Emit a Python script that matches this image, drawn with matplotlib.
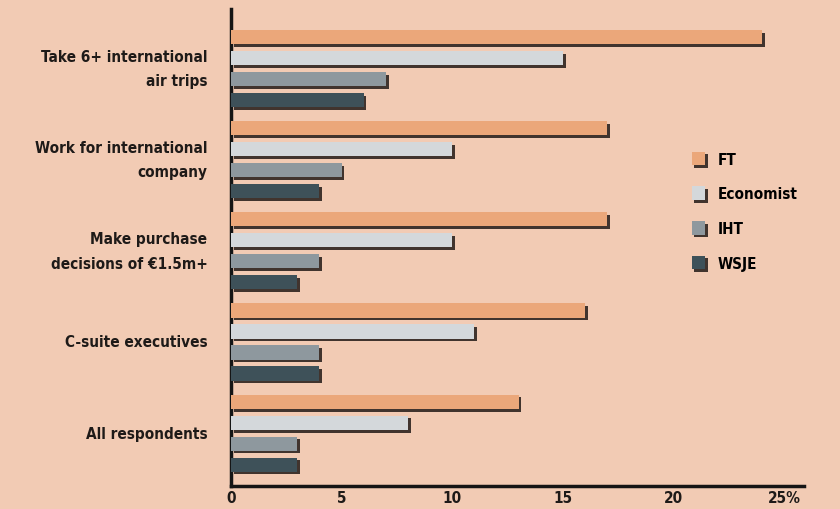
import numpy as np
import matplotlib.pyplot as plt
import matplotlib.patheffects as pe

categories = ['Take 6+ international\nair trips', 'Work for international\ncompany',
              'Make purchase\ndecisions of €1.5m+', 'C-suite executives', 'All respondents']
series = ['FT', 'Economist', 'IHT', 'WSJE']
ft = [24, 17, 17, 16, 13]
economist = [15, 10, 10, 11, 8]
iht = [7, 5, 4, 4, 3]
wsje = [6, 4, 3, 4, 3]
xticks = [0, 5, 10, 15, 20, 25]
xticklabels = ['0', '5', '10', '15', '20', '25%']

colors = ['#eba77a', '#d4d8db', '#8e989e', '#3e5159']
bg = '#f2cbb4'

plt.rcParams['font.family'] = ['DejaVu Sans']
plt.rcParams['font.stretch'] = 'condensed'
plt.rcParams['font.weight'] = 'bold'

fig = plt.figure(figsize=(8.4, 5.1), dpi=100)
fig.patch.set_facecolor(bg)
ax = fig.add_axes([0.275, 0.045, 0.682, 0.935])
ax.set_facecolor(bg)

# dark drop shadow under each bar
shadow = [pe.SimplePatchShadow(offset=(2, -2), shadow_rgbFace='#2e2420', alpha=0.9), pe.Normal()]

centers = np.arange(len(categories))[::-1].astype(float)
step = 0.23
height = 0.155
for i, (name, vals) in enumerate(zip(series, [ft, economist, iht, wsje])):
    y = centers + (1.5 - i) * step
    bars = ax.barh(y, vals, height=height, color=colors[i], label=name, zorder=3)
    for b in bars:
        b.set_path_effects(shadow)

ax.set_ylim(-0.58, 4.65)
ax.set_xlim(0, 25.9)
ax.set_yticks(centers)
ax.set_yticklabels(categories, fontsize=11, color='#1e1a18', linespacing=1.8)
for lab in ax.get_yticklabels():
    lab.set_va('center')
ax.set_xticks(xticks)
ax.set_xticklabels(xticklabels, fontsize=11, color='#1e1a18')
ax.tick_params(length=0, axis='y', pad=17)
ax.tick_params(length=0, axis='x', pad=3)
for s in ['top', 'right']:
    ax.spines[s].set_visible(False)
for s in ['left', 'bottom']:
    ax.spines[s].set_linewidth(2.5)
    ax.spines[s].set_color('#151515')

leg = ax.legend(loc='upper left', bbox_to_anchor=(0.78, 0.73), frameon=False,
                fontsize=11, handlelength=0.9, handleheight=1.0, labelspacing=1.28,
                handletextpad=0.8)
for p in leg.get_patches():
    p.set_path_effects(shadow)

fig.savefig('out.png', dpi=100, facecolor=bg)
